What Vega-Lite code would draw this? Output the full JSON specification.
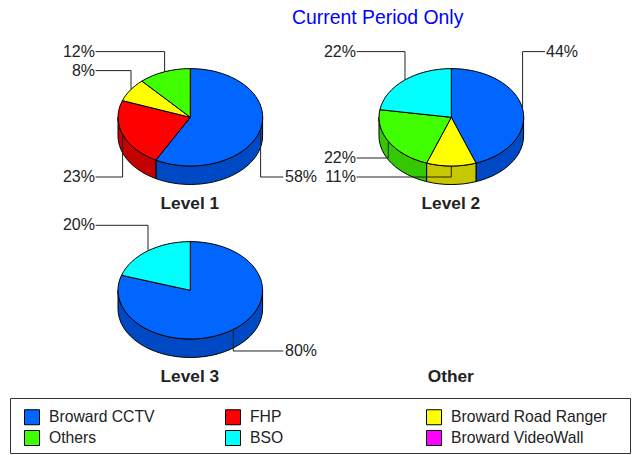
{
"$schema":"https://vega.github.io/schema/vega-lite/v6.json",
"width":637,"height":455,"padding":0,"autosize":{"type":"none"},
"background":"white",
"config":{"view":{"stroke":null},"text":{"font":"Liberation Sans"}},
"data":{"name":"slices"},
"datasets":{
"slices":[
{"slice":"L1 Broward CCTV","level":"Level 1","col":"left","row":"top","category":"Broward CCTV","share":0.58},
{"slice":"L1 FHP","level":"Level 1","col":"left","row":"top","category":"FHP","share":0.23},
{"slice":"L1 Broward Road Ranger","level":"Level 1","col":"left","row":"top","category":"Broward Road Ranger","share":0.08},
{"slice":"L1 Others","level":"Level 1","col":"left","row":"top","category":"Others","share":0.12},
{"slice":"L2 Broward CCTV","level":"Level 2","col":"right","row":"top","category":"Broward CCTV","share":0.44},
{"slice":"L2 Broward Road Ranger","level":"Level 2","col":"right","row":"top","category":"Broward Road Ranger","share":0.11},
{"slice":"L2 Others","level":"Level 2","col":"right","row":"top","category":"Others","share":0.22},
{"slice":"L2 BSO","level":"Level 2","col":"right","row":"top","category":"BSO","share":0.22},
{"slice":"L3 Broward CCTV","level":"Level 3","col":"left","row":"bottom","category":"Broward CCTV","share":0.80},
{"slice":"L3 BSO","level":"Level 3","col":"left","row":"bottom","category":"BSO","share":0.20}
],
"levels":[
{"level":"Level 1","col":"left","row":"top"},
{"level":"Level 2","col":"right","row":"top"},
{"level":"Level 3","col":"left","row":"bottom"},
{"level":"Other","col":"right","row":"bottom"}
]
},
"encoding":{
"x":{"field":"col","type":"nominal","axis":null,"scale":{"type":"point","domain":["left","right"],"range":[190.3,451.3],"padding":0}},
"y":{"field":"row","type":"nominal","axis":null,"scale":{"type":"point","domain":["top","bottom"],"range":[117.3,290.3],"padding":0}}
},
"layer":[
{"data":{"values":[{"item":"legend frame"}]},
 "mark":{"type":"rect","fill":"white","stroke":"#333333","strokeWidth":1},
 "encoding":{"x":{"value":10.5},"x2":{"value":630.5},"y":{"value":398.5},"y2":{"value":453.5}}},
{"data":{"values":[{"title":"Current Period Only"}]},
 "mark":{"type":"text","align":"left","baseline":"middle","fontSize":19.4,"color":"#0000FF"},
 "encoding":{"x":{"value":292},"y":{"value":18},"text":{"field":"title","type":"nominal"}}},
{"transform":[{"filter":{"field":"slice","oneOf":["L1 Broward CCTV","L1 FHP","L2 Broward CCTV","L2 Broward Road Ranger","L2 Others","L3 Broward CCTV"]}}],
 "mark":{"type":"point","filled":true,"stroke":"black","strokeWidth":1,"opacity":1,"size":4},
 "encoding":{
  "fill":{"field":"category","type":"nominal","legend":null,"scale":{"domain":["Broward CCTV","FHP","Broward Road Ranger","Others"],"range":["#0049C4","#C40000","#C8C800","#33C800"]}},
  "shape":{"field":"slice","type":"nominal","legend":null,"scale":{
   "domain":["L1 Broward CCTV","L1 FHP","L2 Broward CCTV","L2 Broward Road Ranger","L2 Others","L3 Broward CCTV"],
   "range":[
    "M72.3,0 A72.3,48.7 0 0 1 -34.4,42.8 L-34.4,61.3 A72.3,48.7 0 0 0 72.3,18.5 Z",
    "M-34.4,42.8 A72.3,48.7 0 0 1 -72.3,0 L-72.3,18.5 A72.3,48.7 0 0 0 -34.4,61.3 Z",
    "M72.3,0 A72.3,48.7 0 0 1 24.7,45.8 L24.7,64.3 A72.3,48.7 0 0 0 72.3,18.5 Z",
    "M24.7,45.8 A72.3,48.7 0 0 1 -24.7,45.8 L-24.7,64.3 A72.3,48.7 0 0 0 24.7,64.3 Z",
    "M-24.7,45.8 A72.3,48.7 0 0 1 -72.3,0 L-72.3,18.5 A72.3,48.7 0 0 0 -24.7,64.3 Z",
    "M72.3,0 A72.3,48.7 0 0 1 -72.3,0 L-72.3,18.5 A72.3,48.7 0 0 0 72.3,18.5 Z"
   ]}}
 }},
{"mark":{"type":"point","filled":true,"stroke":"black","strokeWidth":1,"opacity":1,"size":4},
 "encoding":{
  "color":{"field":"category","type":"nominal","scale":{"domain":["Broward CCTV","FHP","Broward Road Ranger","Others","BSO","Broward VideoWall"],"range":["#0066FF","#FF0000","#FFFF00","#40FF00","#00FFFF","#FF00FF"]},
   "legend":{"orient":"none","legendX":24,"legendY":409,"direction":"horizontal","columns":3,"title":null,"symbolType":"square","symbolSize":225,"symbolStrokeColor":"black","symbolStrokeWidth":1,"symbolOpacity":1,"labelFont":"Liberation Sans","labelFontSize":15.7,"labelColor":"#222222","labelOffset":9,"labelLimit":300,"columnPadding":17,"rowPadding":1,"padding":0,"gridAlign":"all","zindex":1}},
  "shape":{"field":"slice","type":"nominal","legend":null,"scale":{
   "domain":["L1 Broward CCTV","L1 FHP","L1 Broward Road Ranger","L1 Others","L2 Broward CCTV","L2 Broward Road Ranger","L2 Others","L2 BSO","L3 Broward CCTV","L3 BSO"],
   "range":[
    "M0,0 L0,-48.7 A72.3,48.7 0 1 1 -34.4,42.8 Z",
    "M0,0 L-34.4,42.8 A72.3,48.7 0 0 1 -67.9,-16.7 Z",
    "M0,0 L-67.9,-16.7 A72.3,48.7 0 0 1 -48.4,-36.2 Z",
    "M0,0 L-48.4,-36.2 A72.3,48.7 0 0 1 0,-48.7 Z",
    "M0,0 L0,-48.7 A72.3,48.7 0 0 1 24.7,45.8 Z",
    "M0,0 L24.7,45.8 A72.3,48.7 0 0 1 -24.7,45.8 Z",
    "M0,0 L-24.7,45.8 A72.3,48.7 0 0 1 -71.4,-7.6 Z",
    "M0,0 L-71.4,-7.6 A72.3,48.7 0 0 1 0,-48.7 Z",
    "M0,0 L0,-48.7 A72.3,48.7 0 1 1 -68.8,-15 Z",
    "M0,0 L-68.8,-15 A72.3,48.7 0 0 1 0,-48.7 Z"
   ]}}
 }},
{"mark":{"type":"point","filled":false,"stroke":"#222222","strokeWidth":1,"opacity":1,"size":4},
 "encoding":{
  "shape":{"field":"slice","type":"nominal","legend":null,"scale":{
   "domain":["L1 Broward CCTV","L1 FHP","L1 Broward Road Ranger","L1 Others","L2 Broward CCTV","L2 Broward Road Ranger","L2 Others","L2 BSO","L3 Broward CCTV","L3 BSO"],
   "range":[
    "M70.3,11.4 L70.3,59.7 L93,59.7",
    "M-67.7,17 L-67.7,59.7 L-94.7,59.7",
    "M-59.3,-27.9 L-59.3,-46.7 L-94.7,-46.7",
    "M-25.7,-45.5 L-25.7,-65.7 L-94.7,-65.7",
    "M71.3,-8.1 L71.3,-65.7 L93.7,-65.7",
    "M0,48.7 L0,59.7 L-94.7,59.7",
    "M-63,23.9 L-63,40.7 L-94.7,40.7",
    "M-46.3,-37.4 L-46.3,-65.7 L-94.7,-65.7",
    "M43,39.2 L43,60.7 L93,60.7",
    "M-42.3,-39.5 L-42.3,-65 L-94.7,-65"
   ]}}
 }},
{"transform":[{"filter":{"field":"slice","equal":"L1 Broward CCTV"}}],"mark":{"type":"text","align":"left","baseline":"middle","dx":94.7,"dy":59.7,"fontSize":16,"color":"#222222"},"encoding":{"text":{"field":"share","type":"quantitative","format":".0%"}}},
{"transform":[{"filter":{"field":"slice","equal":"L1 FHP"}}],"mark":{"type":"text","align":"right","baseline":"middle","dx":-95.3,"dy":59.7,"fontSize":16,"color":"#222222"},"encoding":{"text":{"field":"share","type":"quantitative","format":".0%"}}},
{"transform":[{"filter":{"field":"slice","equal":"L1 Broward Road Ranger"}}],"mark":{"type":"text","align":"right","baseline":"middle","dx":-95.3,"dy":-46.7,"fontSize":16,"color":"#222222"},"encoding":{"text":{"field":"share","type":"quantitative","format":".0%"}}},
{"transform":[{"filter":{"field":"slice","equal":"L1 Others"}}],"mark":{"type":"text","align":"right","baseline":"middle","dx":-95.3,"dy":-65.7,"fontSize":16,"color":"#222222"},"encoding":{"text":{"field":"share","type":"quantitative","format":".0%"}}},
{"transform":[{"filter":{"field":"slice","equal":"L2 Broward CCTV"}}],"mark":{"type":"text","align":"left","baseline":"middle","dx":94.7,"dy":-65.7,"fontSize":16,"color":"#222222"},"encoding":{"text":{"field":"share","type":"quantitative","format":".0%"}}},
{"transform":[{"filter":{"field":"slice","equal":"L2 Broward Road Ranger"}}],"mark":{"type":"text","align":"right","baseline":"middle","dx":-95.3,"dy":59.7,"fontSize":16,"color":"#222222"},"encoding":{"text":{"field":"share","type":"quantitative","format":".0%"}}},
{"transform":[{"filter":{"field":"slice","equal":"L2 Others"}}],"mark":{"type":"text","align":"right","baseline":"middle","dx":-95.3,"dy":40.7,"fontSize":16,"color":"#222222"},"encoding":{"text":{"field":"share","type":"quantitative","format":".0%"}}},
{"transform":[{"filter":{"field":"slice","equal":"L2 BSO"}}],"mark":{"type":"text","align":"right","baseline":"middle","dx":-95.3,"dy":-65.7,"fontSize":16,"color":"#222222"},"encoding":{"text":{"field":"share","type":"quantitative","format":".0%"}}},
{"transform":[{"filter":{"field":"slice","equal":"L3 Broward CCTV"}}],"mark":{"type":"text","align":"left","baseline":"middle","dx":94.7,"dy":60.7,"fontSize":16,"color":"#222222"},"encoding":{"text":{"field":"share","type":"quantitative","format":".0%"}}},
{"transform":[{"filter":{"field":"slice","equal":"L3 BSO"}}],"mark":{"type":"text","align":"right","baseline":"middle","dx":-95.3,"dy":-65,"fontSize":16,"color":"#222222"},"encoding":{"text":{"field":"share","type":"quantitative","format":".0%"}}},
{"data":{"name":"levels"},"mark":{"type":"text","align":"center","baseline":"middle","dy":86.3,"dx":-0.5,"fontSize":17.3,"fontWeight":"bold","color":"#222222"},"encoding":{"text":{"field":"level","type":"nominal"}}}
],
"resolve":{"scale":{"shape":"independent"}}
}
